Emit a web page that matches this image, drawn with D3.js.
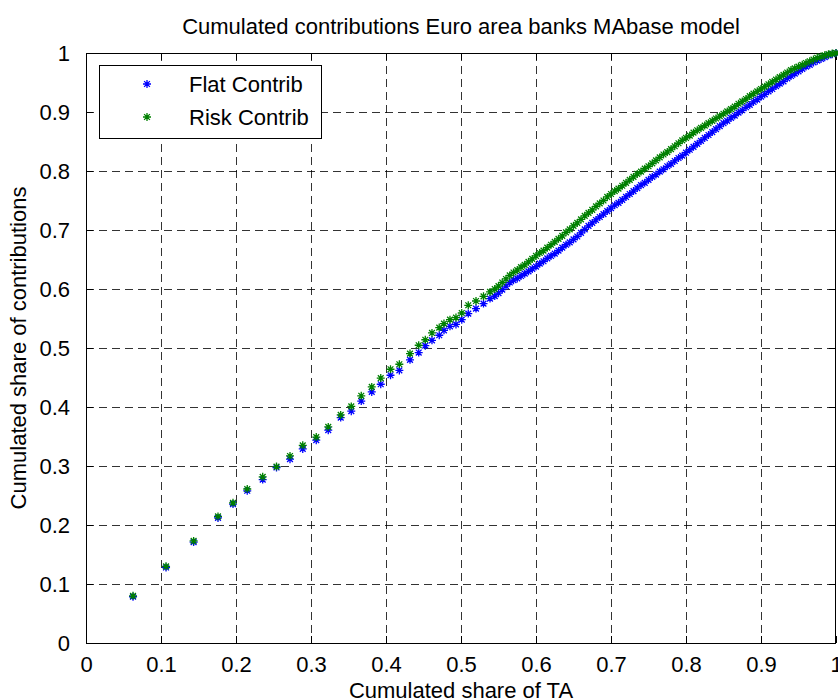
<!DOCTYPE html>
<html>
<head>
<meta charset="utf-8">
<script src="https://cdn.jsdelivr.net/npm/d3@7"></script>
<style>
  body { margin: 0; background: #fff; }
  svg text { font-family: "Liberation Sans", Arial, sans-serif; fill: #000; }
</style>
</head>
<body>
<div id="chart"></div>
<script>
// values (x = cumulated share of TA, y = cumulated share)
// the sparse banks at the start, then the dense band
var flatX = [0.0627, 0.1067, 0.1435, 0.176, 0.196, 0.215, 0.2356, 0.254, 0.272, 0.289,
  0.307, 0.323, 0.3396, 0.3537, 0.367, 0.381, 0.393, 0.406, 0.4178, 0.432,
  0.4436, 0.4524, 0.4613, 0.471, 0.4773, 0.4853, 0.4933, 0.501, 0.5097, 0.52,
  0.53, 0.5387, 0.545,
  0.550, 0.555, 0.560, 0.565, 0.570, 0.575, 0.580, 0.585, 0.590, 0.595,
  0.600, 0.605, 0.610, 0.615, 0.620, 0.625, 0.630, 0.635, 0.640, 0.645,
  0.650, 0.655, 0.660, 0.665, 0.670, 0.675, 0.680, 0.685, 0.690, 0.695,
  0.700, 0.705, 0.710, 0.715, 0.720, 0.725, 0.730, 0.735, 0.740, 0.745,
  0.750, 0.755, 0.760, 0.765, 0.770, 0.775, 0.780, 0.785, 0.790, 0.795,
  0.800, 0.805, 0.810, 0.815, 0.820, 0.825, 0.830, 0.835, 0.840, 0.845,
  0.850, 0.855, 0.860, 0.865, 0.870, 0.875, 0.880, 0.885, 0.890, 0.895,
  0.900, 0.905, 0.910, 0.915, 0.920, 0.925, 0.930, 0.935, 0.940, 0.945,
  0.950, 0.955, 0.960, 0.965, 0.970, 0.975, 0.980, 0.985, 0.990, 0.995, 1.000];
var flatY = [0.0784, 0.128, 0.171, 0.212, 0.2354, 0.258, 0.277, 0.2975, 0.3116, 0.329,
  0.3438, 0.3607, 0.382, 0.393, 0.410, 0.4256, 0.4386, 0.4538, 0.462, 0.480,
  0.4923, 0.504, 0.513, 0.5216, 0.530, 0.5368, 0.540, 0.548, 0.5583, 0.5668,
  0.5753, 0.5837, 0.588,
  0.593, 0.599, 0.605, 0.611, 0.615, 0.618, 0.622, 0.626, 0.630, 0.634,
  0.638, 0.643, 0.647, 0.652, 0.656, 0.660, 0.665, 0.670, 0.675, 0.679,
  0.684, 0.689, 0.695, 0.701, 0.707, 0.712, 0.717, 0.722, 0.727, 0.732,
  0.737, 0.742, 0.746, 0.751, 0.756, 0.761, 0.766, 0.771, 0.776, 0.780,
  0.785, 0.790, 0.794, 0.799, 0.803, 0.808, 0.812, 0.817, 0.822, 0.826,
  0.831, 0.836, 0.841, 0.846, 0.851, 0.856, 0.861, 0.866, 0.871, 0.876,
  0.881, 0.885, 0.890, 0.894, 0.899, 0.903, 0.908, 0.912, 0.917, 0.921,
  0.926, 0.930, 0.935, 0.939, 0.944, 0.948, 0.952, 0.957, 0.961, 0.965,
  0.969, 0.973, 0.977, 0.980, 0.984, 0.987, 0.990, 0.993, 0.996, 0.998, 1.000];

var riskX = [0.0627, 0.1067, 0.1435, 0.176, 0.196, 0.215, 0.2356, 0.254, 0.272, 0.289,
  0.307, 0.323, 0.3396, 0.3537, 0.367, 0.381, 0.393, 0.406, 0.4178, 0.432,
  0.4436, 0.4524, 0.4613, 0.471, 0.4773, 0.4853, 0.4933, 0.501, 0.5097, 0.52,
  0.53, 0.5387, 0.545,
  0.550, 0.555, 0.560, 0.565, 0.570, 0.575, 0.580, 0.585, 0.590, 0.595,
  0.600, 0.605, 0.610, 0.615, 0.620, 0.625, 0.630, 0.635, 0.640, 0.645,
  0.650, 0.655, 0.660, 0.665, 0.670, 0.675, 0.680, 0.685, 0.690, 0.695,
  0.700, 0.705, 0.710, 0.715, 0.720, 0.725, 0.730, 0.735, 0.740, 0.745,
  0.750, 0.755, 0.760, 0.765, 0.770, 0.775, 0.780, 0.785, 0.790, 0.795,
  0.800, 0.805, 0.810, 0.815, 0.820, 0.825, 0.830, 0.835, 0.840, 0.845,
  0.850, 0.855, 0.860, 0.865, 0.870, 0.875, 0.880, 0.885, 0.890, 0.895,
  0.900, 0.905, 0.910, 0.915, 0.920, 0.925, 0.930, 0.935, 0.940, 0.945,
  0.950, 0.955, 0.960, 0.965, 0.970, 0.975, 0.980, 0.985, 0.990, 0.995, 1.000];
var riskY = [0.080, 0.130, 0.173, 0.2145, 0.2376, 0.261, 0.2816, 0.299, 0.317, 0.335,
  0.349, 0.3663, 0.3866, 0.401, 0.419, 0.434, 0.449, 0.464, 0.4725, 0.4906,
  0.5047, 0.514, 0.5255, 0.5346, 0.5414, 0.548, 0.5515, 0.5593, 0.5724, 0.5797,
  0.5876, 0.595, 0.600,
  0.605, 0.611, 0.617, 0.623, 0.628, 0.632, 0.637, 0.641, 0.646, 0.651,
  0.656, 0.661, 0.665, 0.670, 0.675, 0.680, 0.685, 0.690, 0.696, 0.701,
  0.707, 0.712, 0.718, 0.724, 0.729, 0.734, 0.740, 0.745, 0.750, 0.756,
  0.761, 0.766, 0.770, 0.775, 0.780, 0.785, 0.790, 0.795, 0.799, 0.804,
  0.808, 0.813, 0.818, 0.823, 0.828, 0.832, 0.837, 0.842, 0.847, 0.852,
  0.856, 0.860, 0.865, 0.869, 0.873, 0.877, 0.881, 0.885, 0.889, 0.893,
  0.897, 0.901, 0.905, 0.909, 0.914, 0.918, 0.922, 0.927, 0.931, 0.935,
  0.939, 0.943, 0.947, 0.951, 0.955, 0.959, 0.963, 0.967, 0.971, 0.974,
  0.977, 0.980, 0.983, 0.986, 0.989, 0.992, 0.994, 0.996, 0.998, 0.999, 1.000];

var xTicks = [0, 0.1, 0.2, 0.3, 0.4, 0.5, 0.6, 0.7, 0.8, 0.9, 1];
var yTicks = [0, 0.1, 0.2, 0.3, 0.4, 0.5, 0.6, 0.7, 0.8, 0.9, 1];
var seriesNames = ["Flat Contrib", "Risk Contrib"];
var seriesColors = ["#0000ff", "#008000"];

var W = 838, H = 700;
var margin = {top: 53, right: 2, bottom: 57, left: 86};
var width = W - margin.left - margin.right;
var height = H - margin.top - margin.bottom;
var fontSize = 22;

var svg = d3.select('#chart').append('svg')
    .attr('width', W)
    .attr('height', H);

var chart = svg.append('g')
    .attr('transform', 'translate(' + margin.left + ',' + margin.top + ')');

var xScale = d3.scaleLinear().domain([0, 1]).range([0, width]);
var yScale = d3.scaleLinear().domain([0, 1]).range([height, 0]);

// grid (dashed), skip the edges
chart.append('g').selectAll('line')
    .data(xTicks.slice(1, -1)).enter().append('line')
    .attr('x1', function(d) { return Math.round(xScale(d)) + 0.5; })
    .attr('x2', function(d) { return Math.round(xScale(d)) + 0.5; })
    .attr('y1', 0).attr('y2', height)
    .attr('stroke', '#000').attr('stroke-opacity', 0.8)
    .attr('stroke-dasharray', '8,5');
chart.append('g').selectAll('line')
    .data(yTicks.slice(1, -1)).enter().append('line')
    .attr('y1', function(d) { return Math.round(yScale(d)) + 0.5; })
    .attr('y2', function(d) { return Math.round(yScale(d)) + 0.5; })
    .attr('x1', 0).attr('x2', width)
    .attr('stroke', '#000').attr('stroke-opacity', 0.8)
    .attr('stroke-dasharray', '8,5');

// axes with inward ticks on all four sides
var fmt = function(d) { return d === 0 || d === 1 ? String(d) : d3.format('.1f')(d); };
var xAxis = d3.axisBottom(xScale).tickValues(xTicks).tickSize(-7).tickPadding(13).tickFormat(fmt);
var yAxis = d3.axisLeft(yScale).tickValues(yTicks).tickSize(-7).tickPadding(16).tickFormat(fmt);

chart.append('g').attr('class', 'x axis')
    .attr('transform', 'translate(0,' + height + ')').call(xAxis);
chart.append('g').attr('class', 'x axis top')
    .call(d3.axisTop(xScale).tickValues(xTicks).tickSize(-7).tickFormat(''));
chart.append('g').attr('class', 'y axis').call(yAxis);
chart.append('g').attr('class', 'y axis right')
    .attr('transform', 'translate(' + width + ',0)')
    .call(d3.axisRight(yScale).tickValues(yTicks).tickSize(-7).tickFormat(''));

chart.selectAll('.axis path, .axis line').attr('stroke', '#000').attr('stroke-width', 1);
chart.selectAll('.axis text')
    .style('font-size', fontSize + 'px')
    .style('font-family', '"Liberation Sans", Arial, sans-serif');
chart.selectAll('.axis .domain').remove();

// frame
chart.append('rect')
    .attr('x', 0.5).attr('y', 0.5)
    .attr('width', width - 1).attr('height', height)
    .attr('fill', 'none').attr('stroke', '#000');

// asterisk marker
function star(s) {
  var r = s / 2, d = r * 0.72;
  return 'M' + (-r) + ',0H' + r + 'M0,' + (-r) + 'V' + r +
    'M' + (-d) + ',' + (-d) + 'L' + d + ',' + d + 'M' + (-d) + ',' + d + 'L' + d + ',' + (-d);
}

var series = [
  {name: seriesNames[0], color: seriesColors[0], xs: flatX, ys: flatY},
  {name: seriesNames[1], color: seriesColors[1], xs: riskX, ys: riskY}
];

series.forEach(function(s) {
  var pts = s.xs.map(function(x, i) { return [x, s.ys[i]]; });
  chart.append('g').selectAll('path')
    .data(pts).enter().append('path')
    .attr('transform', function(d) { return 'translate(' + xScale(d[0]) + ',' + yScale(d[1]) + ')'; })
    .attr('d', star(8))
    .attr('fill', 'none')
    .attr('stroke', s.color)
    .attr('stroke-width', 1.3);
});

// title and labels
svg.append('text')
    .attr('x', margin.left + width / 2).attr('y', 34)
    .attr('text-anchor', 'middle')
    .style('font-size', fontSize + 'px')
    .text('Cumulated contributions Euro area banks MAbase model');
svg.append('text')
    .attr('x', margin.left + width / 2).attr('y', 698)
    .attr('text-anchor', 'middle')
    .style('font-size', fontSize + 'px')
    .text('Cumulated share of TA');
svg.append('text')
    .attr('transform', 'translate(26,' + (margin.top + height / 2) + ') rotate(-90)')
    .attr('text-anchor', 'middle')
    .style('font-size', fontSize + 'px')
    .text('Cumulated share of contributions');

// legend
var legend = svg.append('g').attr('transform', 'translate(99,65)');
legend.append('rect')
    .attr('x', 0.5).attr('y', 0.5).attr('width', 222).attr('height', 73)
    .attr('fill', '#fff').attr('stroke', '#000');
series.forEach(function(s, i) {
  var yy = 19 + i * 33;
  legend.append('path')
    .attr('transform', 'translate(48,' + yy + ')')
    .attr('d', star(8))
    .attr('fill', 'none').attr('stroke', s.color).attr('stroke-width', 1.3);
  legend.append('text')
    .attr('x', 90).attr('y', yy + 8)
    .style('font-size', fontSize + 'px')
    .text(s.name);
});
</script>
</body>
</html>
